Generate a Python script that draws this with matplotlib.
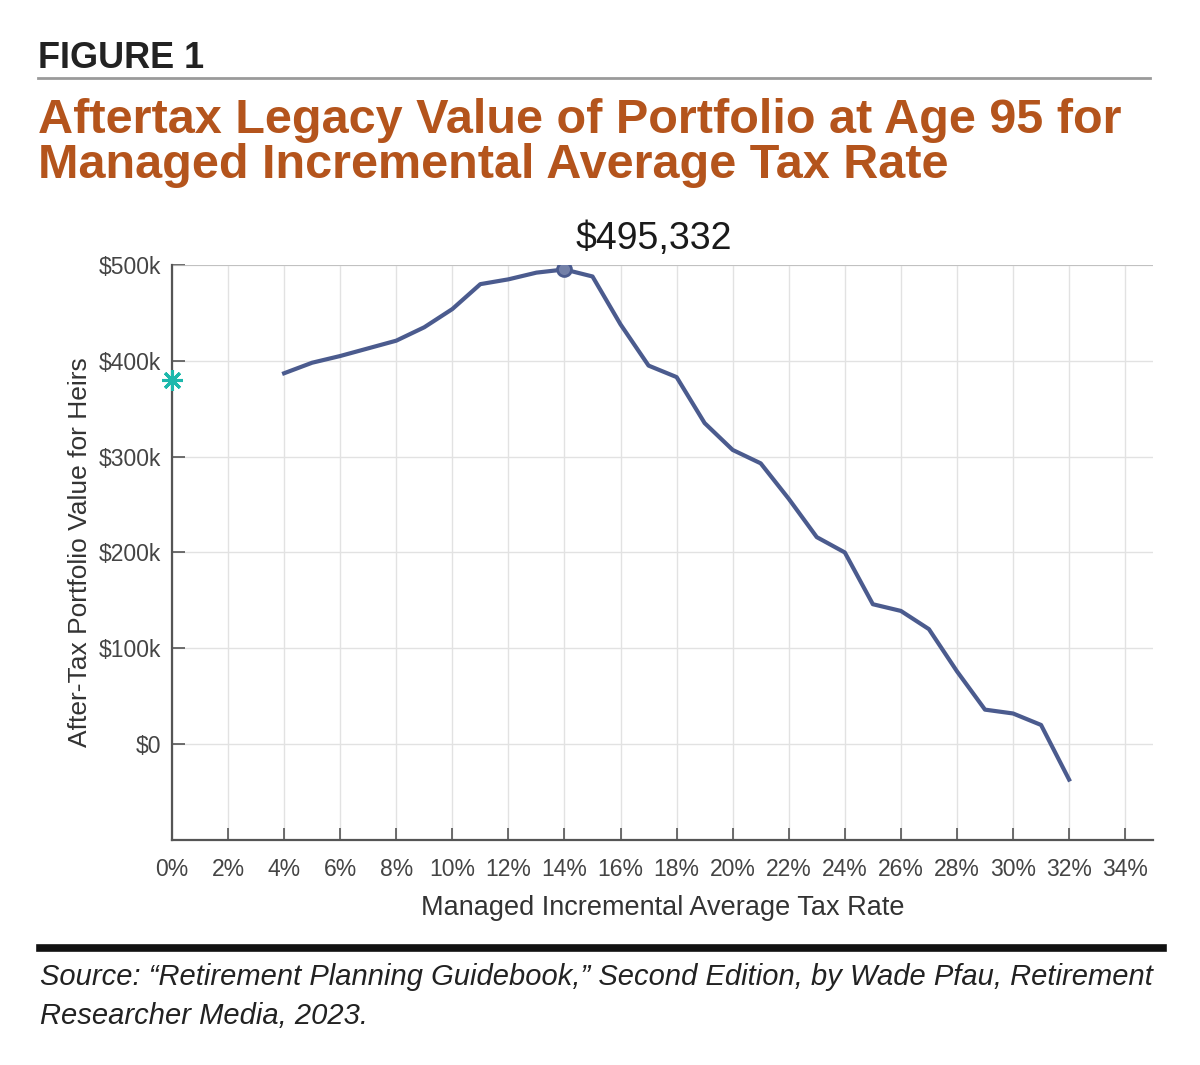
import matplotlib
matplotlib.use("Agg")
import matplotlib.pyplot as plt
from matplotlib.ticker import FuncFormatter, MultipleLocator

# tax rate (%) and after-tax legacy value ($k)
rates = list(range(4, 33))
values = [387, 398, 405, 413, 421, 435, 454, 480, 485, 492, 495.332, 488, 438,
          395, 383, 335, 307, 293, 256, 216, 200, 146, 139, 120, 76, 36, 32, 20, -37]
star_rate = 0
star_value = 380
peak_rate = 14
peak_value = 495.332
peak_label = "$495,332"

title_color = "#B4541C"
line_color = "#4B5B8E"
star_color = "#1DB8AC"


def money(v, pos):
    if v < 0:
        return ""
    if v == 0:
        return "$0"
    return f"${v:.0f}k"


plt.rcParams["font.family"] = ["Liberation Sans", "DejaVu Sans"]

fig = plt.figure(figsize=(12, 10.65), dpi=100)
ax = fig.add_axes([0.1433, 0.2113, 0.8177, 0.5399])

ax.plot(rates, values, color=line_color, lw=3, solid_joinstyle="round", zorder=3)
ax.plot([peak_rate], [peak_value], "o", ms=10, mfc="#7380A8", mec=line_color, mew=2, zorder=4)
ax.plot([star_rate], [star_value], marker=(8, 2, 0), ms=15, mew=2.2, color=star_color,
        clip_on=False, zorder=5)
ax.annotate(peak_label, (peak_rate, peak_value), xytext=(8, 9), textcoords="offset points",
            ha="left", va="bottom", fontsize=27, color="#1a1a1a")

ax.set_xlim(0, 35)
ax.set_ylim(-100, 500)
ax.xaxis.set_major_locator(MultipleLocator(2))
ax.yaxis.set_major_locator(MultipleLocator(100))
ax.xaxis.set_major_formatter(FuncFormatter(lambda v, p: f"{v:.0f}%"))
ax.yaxis.set_major_formatter(FuncFormatter(money))
ax.grid(True, color="#e2e2e2", lw=1)
ax.set_axisbelow(True)
for s in ["top", "right"]:
    ax.spines[s].set_visible(False)
for s in ["left", "bottom"]:
    ax.spines[s].set_color("#555555")
    ax.spines[s].set_linewidth(1.6)
ax.tick_params(direction="in", length=9, width=1.2, color="#555555", labelcolor="#444444",
               labelsize=16.5)
ax.tick_params(axis="x", pad=13)
ax.tick_params(axis="y", pad=8)
ax.set_xlabel("Managed Incremental Average Tax Rate", fontsize=19.5, color="#333333", labelpad=10)
ax.set_ylabel("After-Tax Portfolio Value for Heirs", fontsize=19, color="#333333", labelpad=5)
ax.axhline(500, color="#bbbbbb", lw=1.2, zorder=1)

# header and footer
fig.text(38 / 1200, 1 - 68 / 1065, "FIGURE 1", fontsize=26, fontweight="bold", color="#222222",
         va="baseline")
fig.add_artist(plt.Line2D([38 / 1200, 1150 / 1200], [1 - 78 / 1065] * 2, color="#9a9a9a", lw=2))
fig.text(38 / 1200, 1 - 133 / 1065, "Aftertax Legacy Value of Portfolio at Age 95 for",
         fontsize=35, fontweight="bold", color=title_color, va="baseline")
fig.text(38 / 1200, 1 - 178 / 1065, "Managed Incremental Average Tax Rate",
         fontsize=35, fontweight="bold", color=title_color, va="baseline")
fig.add_artist(plt.Line2D([40 / 1200, 1163 / 1200], [1 - 948 / 1065] * 2, color="#111111", lw=5.5))
fig.text(40 / 1200, 1 - 985 / 1065,
         "Source: \u201cRetirement Planning Guidebook,\u201d Second Edition, by Wade Pfau, Retirement",
         fontsize=21, style="italic", color="#222222", va="baseline")
fig.text(40 / 1200, 1 - 1024 / 1065, "Researcher Media, 2023.",
         fontsize=21, style="italic", color="#222222", va="baseline")

fig.savefig("out.png", dpi=100, facecolor="white")
